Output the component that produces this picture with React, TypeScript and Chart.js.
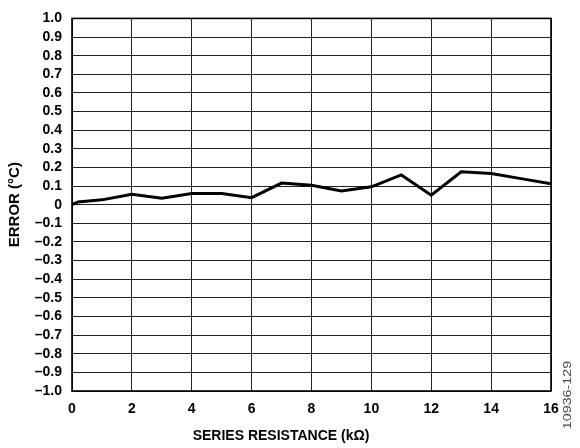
import React, { useEffect, useRef } from "react";
import { Chart, registerables } from "chart.js";

Chart.register(...registerables);

const resistance = [0, 0.2, 1, 2, 3, 4, 5, 6, 7, 8, 9, 10, 11, 12, 13, 14, 15, 16];
const errorC = [0, 0.015, 0.026, 0.056, 0.035, 0.06, 0.06, 0.038, 0.116, 0.104, 0.074, 0.096, 0.16, 0.051, 0.177, 0.168, 0.14, 0.112];
const xTitle = "SERIES RESISTANCE (kΩ)";
const yTitle = "ERROR (°C)";
const figId = "10936-129";

const FONT = "'Liberation Sans', Arial, sans-serif";

export default function App() {
  const ref = useRef<HTMLCanvasElement | null>(null);
  useEffect(() => {
    if (!ref.current) return;
    const borderPlugin = {
      id: "frame",
      afterDraw(chart: any) {
        const { ctx, chartArea } = chart;
        ctx.save();
        ctx.strokeStyle = "#000";
        ctx.lineWidth = 1.6;
        ctx.strokeRect(chartArea.left, chartArea.top, chartArea.right - chartArea.left, chartArea.bottom - chartArea.top);
        ctx.fillStyle = "#000";
        ctx.font = `bold 14px ${FONT}`;
        ctx.textAlign = "center";
        ctx.textBaseline = "middle";
        ctx.fillText(xTitle, 281, 436);
        ctx.translate(568, 395);
        ctx.rotate(-Math.PI / 2);
        ctx.scale(1.3, 1);
        ctx.fillStyle = "#444";
        ctx.font = `11px ${FONT}`;
        ctx.fillText(figId, 0, 0);
        ctx.restore();
      },
    };
    const chart = new Chart(ref.current, {
      type: "line",
      data: {
        datasets: [
          {
            data: resistance.map((x, i) => ({ x, y: errorC[i] })),
            borderColor: "#000",
            borderWidth: 3,
            pointRadius: 0,
            tension: 0,
            fill: false,
          },
        ],
      },
      options: {
        animation: false,
        responsive: false,
        events: [],
        layout: { padding: { left: 0, right: 29, top: 11, bottom: 0 } },
        plugins: { legend: { display: false }, tooltip: { enabled: false } },
        scales: {
          x: {
            type: "linear",
            min: 0,
            max: 16,
            ticks: { stepSize: 2, autoSkip: false, color: "#000", padding: 10, font: { family: FONT, size: 14, weight: "bold" } },
            grid: { color: "#222", lineWidth: 1, drawTicks: false },
            border: { display: false },
            title: { display: false },
            afterFit(scale: any) {
              scale.height = 57;
            },
          },
          y: {
            min: -1,
            max: 1,
            ticks: {
              stepSize: 0.1,
              autoSkip: false,
              color: "#000",
              padding: 10,
              font: { family: FONT, size: 14, weight: "bold" },
              callback: (v: any) => {
                const n = Math.round(Number(v) * 10) / 10;
                if (n === 0) return "0";
                return n < 0 ? "–" + Math.abs(n).toFixed(1) : n.toFixed(1);
              },
            },
            grid: { color: "#222", lineWidth: 1, drawTicks: false },
            border: { display: false },
            title: { display: true, text: yTitle, color: "#000", padding: { top: 6, bottom: 0 }, font: { family: FONT, size: 15, weight: "bold" } },
            afterFit(scale: any) {
              scale.width = 72;
            },
          },
        },
      },
      plugins: [borderPlugin],
    });
    return () => chart.destroy();
  }, []);
  return (
    <div style={{ position: "fixed", left: 0, top: 0, width: 580, height: 448, background: "#fff" }}>
      <canvas ref={ref} width={580} height={448} style={{ width: 580, height: 448 }} />
    </div>
  );
}
